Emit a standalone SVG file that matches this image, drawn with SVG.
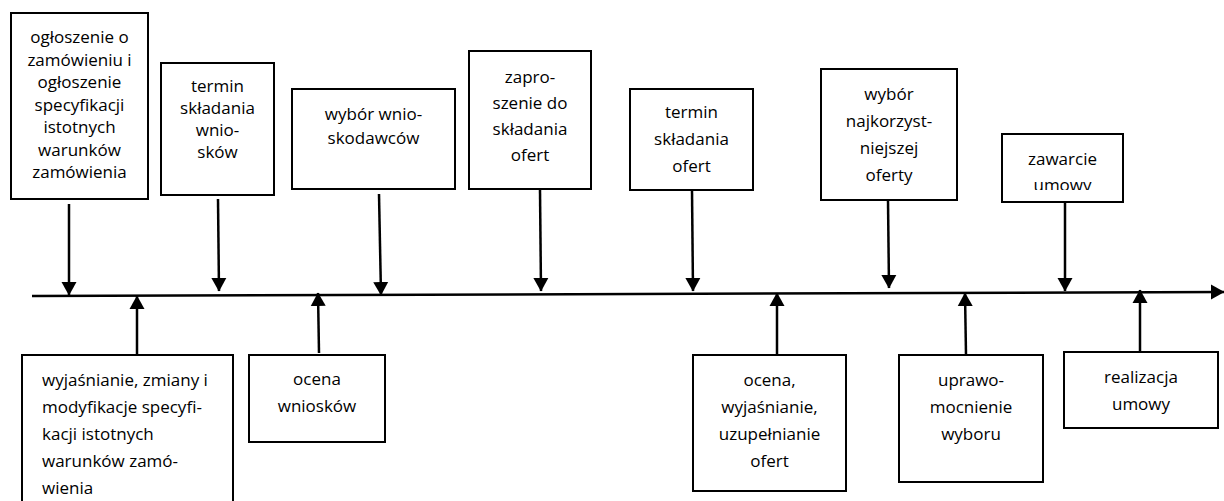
<svg xmlns="http://www.w3.org/2000/svg" width="1224" height="501" viewBox="0 0 1224 501">
<defs>
<style>
.box{fill:#fff;stroke:#000;stroke-width:2}
text{font-family:"Open Sans","Noto Sans",sans-serif;font-size:17px;fill:#000;text-anchor:middle}
.l{text-anchor:start}
.c{stroke:#000;stroke-width:2.5;fill:none;marker-end:url(#ah)}
</style>
<marker id="ah" markerUnits="userSpaceOnUse" markerWidth="14" markerHeight="16" refX="13" refY="8" orient="auto" viewBox="0 0 14 16">
<path d="M0,0.5 L13.5,8 L0,15.5 z" fill="#000"/>
</marker>
<clipPath id="clipZ"><rect x="1002" y="134" width="121" height="56"/></clipPath>
</defs>
<rect width="1224" height="501" fill="#fff"/>

<g id="connectors">
<line class="c" x1="32" y1="296" x2="1224" y2="292"/>
<line class="c" x1="69" y1="204" x2="69" y2="295"/>
<line class="c" x1="218" y1="199" x2="219" y2="291"/>
<line class="c" x1="379" y1="194" x2="381" y2="295"/>
<line class="c" x1="540" y1="190" x2="541" y2="291"/>
<line class="c" x1="692" y1="190" x2="693" y2="291"/>
<line class="c" x1="888" y1="200" x2="889" y2="288"/>
<line class="c" x1="1065" y1="202" x2="1065" y2="291"/>
<line class="c" x1="137" y1="355" x2="137" y2="296"/>
<line class="c" x1="319" y1="353" x2="318" y2="293"/>
<line class="c" x1="777" y1="355" x2="777" y2="293"/>
<line class="c" x1="966" y1="355" x2="965" y2="293"/>
<line class="c" x1="1140" y1="352" x2="1140" y2="290"/>
</g>

<g id="n1">
<rect class="box" x="11" y="13" width="137" height="186"/>
<text x="79.5" y="43" font-size="15.5">ogłoszenie o</text>
<text x="79.5" y="65.5" font-size="15.5">zamówieniu i</text>
<text x="79.5" y="88" font-size="15.5">ogłoszenie</text>
<text x="79.5" y="110.5" font-size="15.5">specyfikacji</text>
<text x="79.5" y="133" font-size="15.5">istotnych</text>
<text x="79.5" y="155.5" font-size="15.5">warunków</text>
<text x="79.5" y="178" font-size="15.5">zamówienia</text>
</g>

<g id="n2">
<rect class="box" x="161" y="63" width="113" height="132"/>
<text x="217.5" y="92" font-size="16.5">termin</text>
<text x="217.5" y="114" font-size="16.5">składania</text>
<text x="217.5" y="136" font-size="16.5">wnio-</text>
<text x="217.5" y="158" font-size="16.5">sków</text>
</g>

<g id="n3">
<rect class="box" x="292" y="89" width="163" height="100"/>
<text x="373.5" y="120">wybór wnio-</text>
<text x="373.5" y="144">skodawców</text>
</g>

<g id="n4">
<rect class="box" x="469" y="51" width="122" height="138"/>
<text x="530" y="83">zapro-</text>
<text x="530" y="109">szenie do</text>
<text x="530" y="135">składania</text>
<text x="530" y="161">ofert</text>
</g>

<g id="n5">
<rect class="box" x="630" y="89" width="123" height="101"/>
<text x="691.5" y="118">termin</text>
<text x="691.5" y="145">składania</text>
<text x="691.5" y="172">ofert</text>
</g>

<g id="n6">
<rect class="box" x="821" y="69" width="136" height="131"/>
<text x="889" y="100">wybór</text>
<text x="889" y="127">najkorzyst-</text>
<text x="889" y="154">niejszej</text>
<text x="889" y="181">oferty</text>
</g>

<g id="n7">
<rect class="box" x="1002" y="134" width="121" height="68"/>
<g clip-path="url(#clipZ)">
<text x="1062.5" y="165">zawarcie</text>
<text x="1062.5" y="191">umowy</text>
</g>
</g>

<g id="n8">
<rect class="box" x="22" y="355" width="211" height="170"/>
<text class="l" x="42" y="386">wyjaśnianie, zmiany i</text>
<text class="l" x="42" y="413">modyfikacje specyfi-</text>
<text class="l" x="42" y="440">kacji istotnych</text>
<text class="l" x="42" y="467">warunków zamó-</text>
<text class="l" x="42" y="494">wienia</text>
</g>

<g id="n9">
<rect class="box" x="249" y="355" width="136" height="87"/>
<text x="317" y="385">ocena</text>
<text x="317" y="412">wniosków</text>
</g>

<g id="n10">
<rect class="box" x="693" y="355" width="153" height="136"/>
<text x="769.5" y="386">ocena,</text>
<text x="769.5" y="413">wyjaśnianie,</text>
<text x="769.5" y="440">uzupełnianie</text>
<text x="769.5" y="467">ofert</text>
</g>

<g id="n11">
<rect class="box" x="899" y="355" width="144" height="127"/>
<text x="971" y="386">uprawo-</text>
<text x="971" y="413">mocnienie</text>
<text x="971" y="440">wyboru</text>
</g>

<g id="n12">
<rect class="box" x="1064" y="352" width="154" height="76"/>
<text x="1141" y="383">realizacja</text>
<text x="1141" y="410">umowy</text>
</g>
</svg>
